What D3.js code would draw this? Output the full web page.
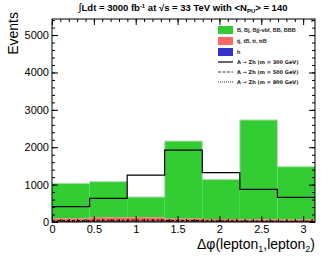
<!DOCTYPE html>
<html>
<head>
<meta charset="utf-8">
<script src="https://cdn.jsdelivr.net/npm/d3@7"></script>
<style>
body { margin: 0; background: #fff; }
text { font-family: "Liberation Sans", Arial, sans-serif; }
</style>
</head>
<body>
<div id="chart"><svg></svg></div>
<script>
// bin edges in delta phi (7 bins from 0 to pi)
var binEdges = [0, 0.449, 0.898, 1.346, 1.795, 2.244, 2.693, 3.1416];

// stacked backgrounds (events per bin)
var hVals = [8, 8, 8, 8, 8, 8, 10];
var topVals = [85, 115, 115, 80, 70, 60, 55];
var bkgTotal = [1035, 1080, 670, 2165, 1140, 2730, 1480];

// signal lines
var sig300 = [410, 630, 1255, 1925, 1320, 875, 660];
var sig500 = [35, 45, 50, 40, 30, 25, 20];
var sig800 = [15, 20, 22, 18, 14, 12, 10];

var xTicks = [0, 0.5, 1, 1.5, 2, 2.5, 3];
var yTicks = [0, 1000, 2000, 3000, 4000, 5000];

var legendNames = ["B, Bj, Bjj-vbf, BB, BBB", "tj, tB, tt, ttB", "h"];
var legendLines = ["A \u2192 Zh (m = 300 GeV)", "A \u2192 Zh (m = 500 GeV)", "A \u2192 Zh (m = 800 GeV)"];

var width = 332, height = 257;
var pLeft = 52, pRight = 315, pTop = 19, pBottom = 222;

var svg = d3.select("#chart").select("svg")
	.attr("width", width)
	.attr("height", height);

var x = d3.scaleLinear().domain([0, Math.PI]).range([pLeft, pRight]);
var y = d3.scaleLinear().domain([0, 5430]).range([pBottom, pTop]);

var bins = hVals.map(function(d, i) {
	return {
		x0: binEdges[i], x1: binEdges[i + 1],
		h: hVals[i],
		t: hVals[i] + topVals[i],
		tot: bkgTotal[i]
	};
});

// green (top of stack)
svg.selectAll(".bkgB")
	.data(bins)
	.enter()
	.append("rect")
	.attr("class", "bkgB")
	.attr("x", function(d) { return x(d.x0); })
	.attr("width", function(d) { return x(d.x1) - x(d.x0); })
	.attr("y", function(d) { return y(d.tot); })
	.attr("height", function(d) { return y(d.t) - y(d.tot); })
	.style("fill", "#33cc33");

// red
svg.selectAll(".bkgT")
	.data(bins)
	.enter()
	.append("rect")
	.attr("class", "bkgT")
	.attr("x", function(d) { return x(d.x0); })
	.attr("width", function(d) { return x(d.x1) - x(d.x0); })
	.attr("y", function(d) { return y(d.t); })
	.attr("height", function(d) { return y(d.h) - y(d.t); })
	.style("fill", "#ff6666");

// blue
svg.selectAll(".bkgH")
	.data(bins)
	.enter()
	.append("rect")
	.attr("class", "bkgH")
	.attr("x", function(d) { return x(d.x0); })
	.attr("width", function(d) { return x(d.x1) - x(d.x0); })
	.attr("y", function(d) { return y(d.h); })
	.attr("height", function(d) { return y(0) - y(d.h); })
	.style("fill", "#3333cc");

function stepPath(vals) {
	var p = d3.path();
	vals.forEach(function(v, i) {
		if (i == 0) p.moveTo(x(binEdges[0]), y(v));
		else p.lineTo(x(binEdges[i]), y(v));
		p.lineTo(x(binEdges[i + 1]), y(v));
	});
	return p.toString();
}

// light outline on green top
svg.append("path")
	.attr("d", stepPath(bkgTotal))
	.style("fill", "none")
	.style("stroke", "#b8ddb8")
	.style("stroke-width", 1);

svg.append("path")
	.attr("d", stepPath(sig300))
	.style("fill", "none")
	.style("stroke", "#000")
	.style("stroke-width", 1.2);
svg.append("path")
	.attr("d", stepPath(sig500))
	.style("fill", "none")
	.style("stroke", "#000")
	.style("stroke-dasharray", "3,2");
svg.append("path")
	.attr("d", stepPath(sig800))
	.style("fill", "none")
	.style("stroke", "#000")
	.style("stroke-dasharray", "1,1");

// axes, ticks pointing inward on all four sides
var yMinor = d3.range(0, 5401, 200);
var xMinor = d3.range(0, 3.15, 0.1);

function styleAxis(g) {
	g.select(".domain").remove();
	g.selectAll("line").style("stroke", "#000");
	g.selectAll("text").style("font-size", "11px").style("fill", "#000");
}

svg.append("g")
	.attr("transform", "translate(" + pLeft + ",0)")
	.call(d3.axisLeft(y).tickValues(yTicks).tickSize(-6).tickPadding(3).tickFormat(d3.format("d")))
	.call(styleAxis);
svg.append("g")
	.attr("transform", "translate(" + pLeft + ",0)")
	.call(d3.axisLeft(y).tickValues(yMinor).tickSize(-3).tickFormat(""))
	.call(styleAxis);
svg.append("g")
	.attr("transform", "translate(" + pRight + ",0)")
	.call(d3.axisRight(y).tickValues(yTicks).tickSize(-6).tickFormat(""))
	.call(styleAxis);
svg.append("g")
	.attr("transform", "translate(" + pRight + ",0)")
	.call(d3.axisRight(y).tickValues(yMinor).tickSize(-3).tickFormat(""))
	.call(styleAxis);

svg.append("g")
	.attr("transform", "translate(0," + pBottom + ")")
	.call(d3.axisBottom(x).tickValues(xTicks).tickSize(-6).tickPadding(3).tickFormat(d3.format("")))
	.call(styleAxis);
svg.append("g")
	.attr("transform", "translate(0," + pBottom + ")")
	.call(d3.axisBottom(x).tickValues(xMinor).tickSize(-3).tickFormat(""))
	.call(styleAxis);
svg.append("g")
	.attr("transform", "translate(0," + pTop + ")")
	.call(d3.axisTop(x).tickValues(xTicks).tickSize(-6).tickFormat(""))
	.call(styleAxis);
svg.append("g")
	.attr("transform", "translate(0," + pTop + ")")
	.call(d3.axisTop(x).tickValues(xMinor).tickSize(-3).tickFormat(""))
	.call(styleAxis);

// frame
svg.append("rect")
	.attr("x", pLeft)
	.attr("y", pTop)
	.attr("width", pRight - pLeft)
	.attr("height", pBottom - pTop)
	.style("fill", "none")
	.style("stroke", "#000")
	.style("stroke-width", 1);

// axis titles
svg.append("text")
	.attr("transform", "translate(18,12) rotate(-90)")
	.style("text-anchor", "end")
	.style("font-size", "14px")
	.text("Events");

var xl = svg.append("text")
	.attr("x", pRight)
	.attr("y", 249)
	.style("text-anchor", "end")
	.style("font-size", "14px");
xl.append("tspan").text("\u0394\u03c6(lepton");
xl.append("tspan").attr("dy", 3).style("font-size", "9px").text("1");
xl.append("tspan").attr("dy", -3).text(",lepton");
xl.append("tspan").attr("dy", 3).style("font-size", "9px").text("2");
xl.append("tspan").attr("dy", -3).text(")");

// title
var t = svg.append("text")
	.attr("x", 183)
	.attr("y", 11)
	.style("text-anchor", "middle")
	.style("font-size", "9.5px")
	.style("font-weight", "bold");
t.append("tspan").style("font-weight", "normal").style("font-size", "11px").text("\u222b");
t.append("tspan").text("Ldt = 3000 fb");
t.append("tspan").attr("dy", -3).style("font-size", "6px").text("-1");
t.append("tspan").attr("dy", 3).text(" at \u221as = 33 TeV with <N");
t.append("tspan").attr("dy", 2).style("font-size", "6px").text("PU");
t.append("tspan").attr("dy", -2).text("> = 140");

// legend
var legColors = ["#33cc33", "#ff6666", "#3333cc"];
var legY = [30, 41, 52];
legColors.forEach(function(c, i) {
	svg.append("rect")
		.attr("x", 218)
		.attr("y", legY[i] - 4)
		.attr("width", 15)
		.attr("height", 8)
		.style("fill", c);
	svg.append("text")
		.attr("x", 237)
		.attr("y", legY[i] + 2)
		.style("font-size", "5.5px")
		.style("font-weight", "bold")
		.style("fill", "#222")
		.text(legendNames[i]);
});
var dashes = [null, "3,1.5", "1,1"];
var lineY = [62, 72, 82];
legendLines.forEach(function(name, i) {
	svg.append("line")
		.attr("x1", 218)
		.attr("x2", 233)
		.attr("y1", lineY[i])
		.attr("y2", lineY[i])
		.style("stroke", "#000")
		.style("stroke-width", i == 0 ? 1.2 : 0.8)
		.style("stroke-dasharray", dashes[i]);
	svg.append("text")
		.attr("x", 237)
		.attr("y", lineY[i] + 2)
		.style("font-size", "5px")
		.style("font-weight", "bold")
		.style("fill", "#222")
		.style("font-family", "'DejaVu Sans', sans-serif")
		.text(name);
});
</script>
</body>
</html>
